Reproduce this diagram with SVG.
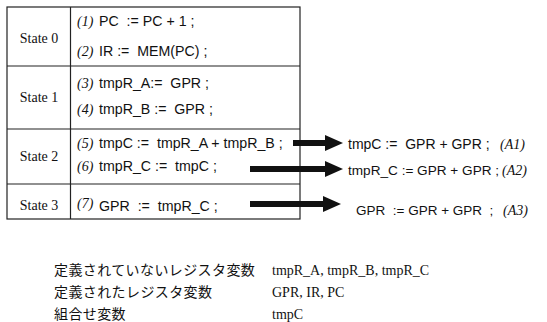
<svg xmlns="http://www.w3.org/2000/svg" width="547" height="322" viewBox="0 0 547 322">
<style>
.st{font-family:"Liberation Serif","Times New Roman",serif;font-size:14px;fill:#111;text-anchor:middle}
.n{font-family:"Liberation Serif","Times New Roman",serif;font-style:italic;font-size:14px;fill:#111}
.c{font-family:"Liberation Sans",Arial,sans-serif;font-size:14.2px;fill:#111;white-space:pre}
.jp{font-family:"Noto Sans CJK JP","Noto Sans CJK SC",sans-serif;font-size:14px;fill:#111;letter-spacing:0.4px}
.tm{font-family:"Liberation Serif","Times New Roman",serif;font-size:14px;fill:#111}
.ln{stroke:#222;stroke-width:1.2;fill:none}
.ar{stroke:#111;stroke-width:6;fill:none}
</style>
<defs>
<marker id="ah" markerUnits="userSpaceOnUse" markerWidth="18" markerHeight="18" refX="0" refY="9" orient="auto">
<path d="M0,1 L18,9 L0,17 Z" fill="#111"/>
</marker>
</defs>
<g id="table">
<rect class="ln" x="7" y="7" width="293" height="212"/>
<line class="ln" x1="70.5" y1="7" x2="70.5" y2="219"/>
<line class="ln" x1="7" y1="66" x2="300" y2="66"/>
<line class="ln" x1="7" y1="129" x2="300" y2="129"/>
<line class="ln" x1="7" y1="184" x2="300" y2="184"/>
</g>
<g id="state0">
<text class="st" x="39" y="43">State 0</text>
<text class="n" x="77" y="26">(1)</text>
<text class="c" x="99" y="26" xml:space="preserve">PC  := PC + 1 ;</text>
<text class="n" x="77" y="56">(2)</text>
<text class="c" x="99" y="56" xml:space="preserve">IR :=  MEM(PC) ;</text>
</g>
<g id="state1">
<text class="st" x="39" y="102">State 1</text>
<text class="n" x="77" y="88">(3)</text>
<text class="c" x="99" y="88" xml:space="preserve">tmpR_A:=  GPR ;</text>
<text class="n" x="77" y="114">(4)</text>
<text class="c" x="99" y="114" xml:space="preserve">tmpR_B :=  GPR ;</text>
</g>
<g id="state2">
<text class="st" x="39" y="161">State 2</text>
<text class="n" x="77" y="148">(5)</text>
<text class="c" x="99" y="148" xml:space="preserve">tmpC :=  tmpR_A + tmpR_B ;</text>
<text class="n" x="77" y="171">(6)</text>
<text class="c" x="99" y="171" xml:space="preserve">tmpR_C :=  tmpC ;</text>
</g>
<g id="state3">
<text class="st" x="39" y="210">State 3</text>
<text class="n" x="77" y="208">(7)</text>
<text class="c" x="99" y="211" xml:space="preserve">GPR  :=  tmpR_C ;</text>
</g>
<g id="connectors">
<line class="ar" x1="293" y1="143" x2="325" y2="143" marker-end="url(#ah)"/>
<line class="ar" x1="250" y1="169" x2="325" y2="169" marker-end="url(#ah)"/>
<line class="ar" x1="250" y1="204" x2="323" y2="204" marker-end="url(#ah)"/>
</g>
<g id="A1">
<text class="c" x="348" y="149" style="font-size:14px" xml:space="preserve">tmpC :=  GPR + GPR ;</text>
<text class="n" x="500" y="149">(A1)</text>
</g>
<g id="A2">
<text class="c" x="348" y="175" style="font-size:13.6px">tmpR_C := GPR + GPR ;</text>
<text class="n" x="502" y="175">(A2)</text>
</g>
<g id="A3">
<text class="c" x="356" y="215" style="font-size:13.5px" xml:space="preserve">GPR  := GPR + GPR  ;</text>
<text class="n" x="503" y="215">(A3)</text>
</g>
<g id="legend">
<text class="jp" x="54" y="275">定義されていないレジスタ変数</text>
<text class="tm" x="272" y="275">tmpR_A, tmpR_B, tmpR_C</text>
<text class="jp" x="54" y="297">定義されたレジスタ変数</text>
<text class="tm" x="272" y="297">GPR, IR, PC</text>
<text class="jp" x="54" y="319">組合せ変数</text>
<text class="tm" x="272" y="319">tmpC</text>
</g>
</svg>
